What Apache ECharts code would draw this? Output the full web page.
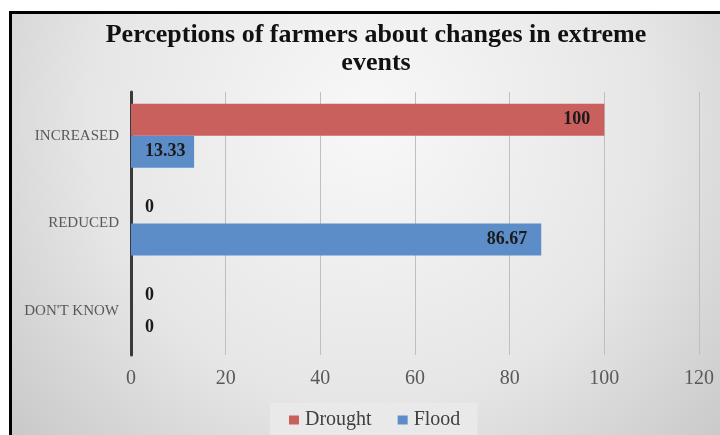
<!DOCTYPE html>
<html>
<head>
<meta charset="utf-8">
<script src="https://cdn.jsdelivr.net/npm/echarts@6/dist/echarts.min.js"></script>
<style>
  html, body { margin: 0; padding: 0; background: #ffffff; }
  #chart { width: 720px; height: 435px; }
</style>
</head>
<body>
<div id="chart"></div>
<script>
// Survey responses (% of farmers)
const categories = ['INCREASED', 'REDUCED', "DON'T KNOW"];
const drought = [100, 0, 0];
const flood = [13.33, 86.67, 0];
const seriesNames = ['Drought', 'Flood'];
const xTicks = { min: 0, max: 120, interval: 20 };

const SERIF = '"Liberation Serif", "DejaVu Serif", serif';

// Short bars get their value written from the base, longer ones at the end
function withLabels(values) {
  return values.map(v => ({
    value: v,
    label: { position: v < 20 ? 'insideLeft' : 'insideRight' }
  }));
}

const chart = echarts.init(document.getElementById('chart'), null, { renderer: 'canvas' });

const barLabel = {
  show: true,
  distance: 14,
  fontFamily: SERIF,
  fontWeight: 'bold',
  fontSize: 18,
  color: '#1a1a1a'
};

chart.setOption({
  animation: false,
  backgroundColor: '#ffffff',
  graphic: [{
    type: 'rect',
    z: -10,
    silent: true,
    shape: { x: 10.5, y: 12.5, width: 720, height: 440 },
    style: {
      fill: new echarts.graphic.RadialGradient(0.5, 0.25, 1.15, [
        { offset: 0, color: '#f8f8f8' },
        { offset: 0.55, color: '#e6e6e6' },
        { offset: 1, color: '#c4c4c4' }
      ]),
      stroke: '#000000',
      lineWidth: 3
    }
  }],
  title: {
    text: 'Perceptions of farmers about changes in extreme\nevents',
    left: 371,
    top: 16,
    textAlign: 'center',
    textStyle: {
      fontFamily: SERIF,
      fontWeight: 'bold',
      fontSize: 26,
      lineHeight: 28,
      color: '#111111'
    }
  },
  legend: {
    data: seriesNames,
    left: 270,
    top: 403,
    padding: [7, 17, 10, 19],
    backgroundColor: '#e9e9e9',
    itemWidth: 10,
    itemHeight: 9,
    itemGap: 26,
    icon: 'rect',
    textStyle: { fontFamily: SERIF, fontSize: 20, color: '#404040', padding: [0, 0, 0, 1] }
  },
  grid: { left: 131, right: 21, top: 92, bottom: 80, containLabel: false },
  xAxis: {
    type: 'value',
    min: xTicks.min,
    max: xTicks.max,
    interval: xTicks.interval,
    axisLine: { show: false },
    axisTick: { show: false },
    splitLine: { show: true, lineStyle: { color: '#bfbfbf', width: 1 } },
    axisLabel: { fontFamily: SERIF, fontSize: 20, color: '#595959', margin: 14 }
  },
  yAxis: {
    type: 'category',
    inverse: true,
    data: categories,
    axisLine: { show: true, lineStyle: { color: '#3a3a3a', width: 3 } },
    axisTick: { show: false },
    axisLabel: { fontFamily: SERIF, fontSize: 15, color: '#595959', margin: 12 }
  },
  series: [
    {
      name: seriesNames[0],
      type: 'bar',
      barWidth: 32,
      barGap: '0%',
      itemStyle: { color: '#c9605e' },
      label: barLabel,
      data: withLabels(drought)
    },
    {
      name: seriesNames[1],
      type: 'bar',
      barWidth: 32,
      barGap: '0%',
      itemStyle: { color: '#5d8dc8' },
      label: barLabel,
      data: withLabels(flood)
    }
  ]
});
</script>
</body>
</html>
